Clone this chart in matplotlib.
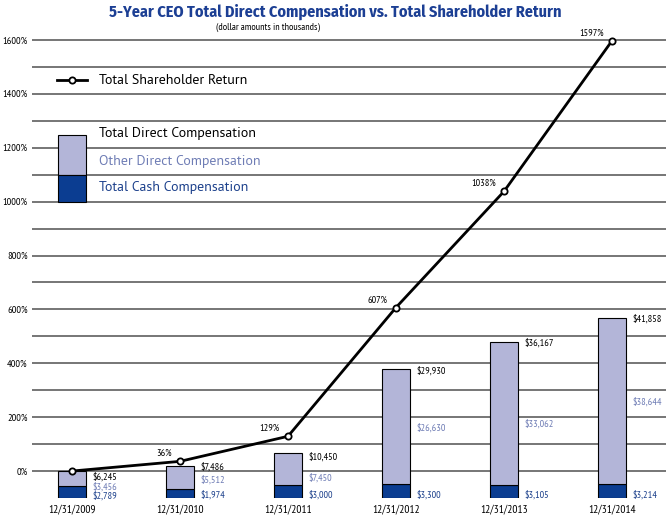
import matplotlib
matplotlib.use("Agg")
import matplotlib.pyplot as plt
from matplotlib.lines import Line2D
from matplotlib.patches import Rectangle

# ---------------- data ----------------
years = ["12/31/2009", "12/31/2010", "12/31/2011", "12/31/2012", "12/31/2013", "12/31/2014"]
total_comp = [6245, 7486, 10450, 29930, 36167, 41858]
other_comp = [3456, 5512, 7450, 26630, 33062, 38644]
cash_comp = [2789, 1974, 3000, 3300, 3105, 3214]
tsr = [0, 36, 129, 607, 1038, 1597]
tsr_labels = ["", "36%", "129%", "607%", "1038%", "1597%"]
y_major = [0, 200, 400, 600, 800, 1000, 1200, 1400, 1600]
y_minor = [100, 300, 500, 700, 900, 1100, 1300, 1500]

# ---------------- style ----------------
NARROW = ["PT Sans Narrow", "DejaVu Sans"]
TITLE_F = ["Fira Sans Condensed", "PT Sans Narrow", "DejaVu Sans"]
LEG = ["PT Sans", "DejaVu Sans"]
LIGHT = "#b3b5d8"
DARK = "#0b3d91"
OTHER_TXT = "#6f7db5"
CASH_TXT = "#1d418c"
TITLE_C = "#1c3f94"
GRID_C = "#767676"
UNITS_PER_PCT = 62.5          # bar scale: thousands of $ per 1 % of the TSR axis
YMIN, YMAX = -100, 1620
BAR_W = 0.26
# label baseline offsets (points)
total_dy = [-5.9, -2.7, -4.7, -3.1, -2.7, -2.9]
other_dy = [-8.0, -3.6, -8.3, -3.0, -9.9, -2.8]
cash_dy = [-0.6, 0.0, 0.0, 0.0, 0.0, 0.0]

fig = plt.figure(figsize=(6.66, 5.19), dpi=100)
ax = fig.add_axes([32 / 666, 21 / 519, 634 / 666, 463.4 / 519])
x = list(range(len(years)))

ax.set_xlim(-0.37, 5.5)
ax.set_ylim(YMIN, YMAX)
ax.set_yticks(y_major)
ax.set_yticklabels([f"{v}%" for v in y_major], family=NARROW, fontsize=7.5)
ax.set_yticks(y_minor, minor=True)
ax.grid(which="both", axis="y", color=GRID_C, lw=1.4)
ax.set_axisbelow(True)
ax.set_xticks(x)
ax.set_xticklabels(years, family=NARROW, fontsize=8.2)
ax.tick_params(axis="both", which="both", length=0)
ax.tick_params(axis="y", pad=3)
ax.tick_params(axis="x", pad=5)
for s in ax.spines.values():
    s.set_visible(False)

# bars on a twin axis in thousands of dollars
axb = ax.twinx()
axb.set_ylim(0, (YMAX - YMIN) * UNITS_PER_PCT)
axb.bar(x, cash_comp, width=BAR_W, color=DARK, edgecolor="black", lw=0.8)
axb.bar(x, other_comp, bottom=cash_comp, width=BAR_W, color=LIGHT, edgecolor="black", lw=0.8)
axb.axis("off")

LBL = 7.3
for i in x:
    axb.annotate(f"${total_comp[i]:,}", (i + BAR_W / 2, total_comp[i]), xytext=(4.5, total_dy[i]),
                 textcoords="offset points", ha="left", va="baseline", family=NARROW, fontsize=LBL,
                 color="black")
    axb.annotate(f"${other_comp[i]:,}", (i + BAR_W / 2, cash_comp[i] + other_comp[i] / 2),
                 xytext=(4.5, other_dy[i]), textcoords="offset points", ha="left", va="baseline",
                 family=NARROW, fontsize=LBL, color=OTHER_TXT)
    axb.annotate(f"${cash_comp[i]:,}", (i + BAR_W / 2, 0), xytext=(4.5, cash_dy[i]),
                 textcoords="offset points", ha="left", va="baseline", family=NARROW, fontsize=LBL,
                 color=CASH_TXT)

# line on top
axl = ax.twinx()
axl.set_ylim(YMIN, YMAX)
axl.set_xlim(ax.get_xlim())
axl.plot(x, tsr, color="black", lw=2, marker="o", ms=4.5, mfc="white", mec="black", mew=1.3,
         zorder=5)
for i in x:
    if tsr_labels[i]:
        axl.annotate(tsr_labels[i], (i, tsr[i]), xytext=(-6, 5.5), textcoords="offset points",
                     ha="right", va="center", family=NARROW, fontsize=LBL)
axl.axis("off")

# manual legend
T = axl.transAxes
axl.add_line(Line2D([0.0394, 0.0868], [0.902, 0.902], color="black", lw=2, transform=T,
                    clip_on=False))
axl.add_line(Line2D([0.0631], [0.902], marker="o", ms=4.5, mfc="white", mec="black", mew=1.3,
                    transform=T, clip_on=False))
LF = 10
axl.text(0.1057, 0.902, "Total Shareholder Return", transform=T, ha="left", va="center",
         family=LEG, fontsize=LF, color="black")
axl.add_patch(Rectangle((0.041, 0.697), 0.0442, 0.0863, facecolor=LIGHT, edgecolor="black",
                        lw=0.8, transform=T))
axl.add_patch(Rectangle((0.041, 0.6388), 0.0442, 0.0582, facecolor=DARK, edgecolor="black",
                        lw=0.8, transform=T))
axl.text(0.1057, 0.7855, "Total Direct Compensation", transform=T, ha="left", va="center",
         family=LEG, fontsize=LF, color="black")
axl.text(0.1057, 0.7272, "Other Direct Compensation", transform=T, ha="left", va="center",
         family=LEG, fontsize=LF, color=OTHER_TXT)
axl.text(0.1057, 0.669, "Total Cash Compensation", transform=T, ha="left", va="center",
         family=LEG, fontsize=LF, color=CASH_TXT)

fig.text(335 / 666, 1 - 12 / 519, "5-Year CEO Total Direct Compensation vs. Total Shareholder Return",
         ha="center", va="center", family=TITLE_F, fontsize=11.6, fontweight="bold", color=TITLE_C)
fig.text(268 / 666, 1 - 27 / 519, "(dollar amounts in thousands)", ha="center", va="center",
         family=NARROW, fontsize=7.2, color="black")

fig.savefig("out.png", dpi=100)
